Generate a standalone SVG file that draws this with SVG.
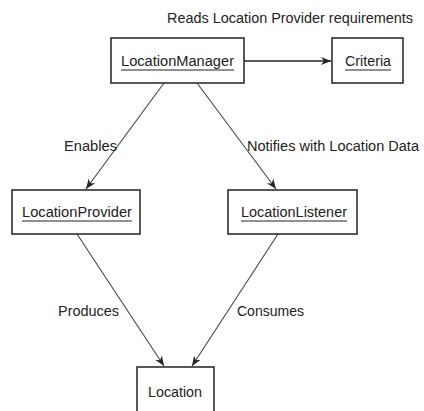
<svg xmlns="http://www.w3.org/2000/svg" width="424" height="411" viewBox="0 0 424 411">
<style>
.box{fill:#fff;stroke:#222;stroke-width:1.5}
.t{font-family:"Liberation Sans",Arial,sans-serif;font-size:14px;fill:#222}
.ul{stroke:#222;stroke-width:1}
.c{stroke:#444;stroke-width:1.1;fill:none;marker-end:url(#ah)}
</style>
<defs>
<marker id="ah" viewBox="0 0 10 10" refX="10" refY="5" markerWidth="10" markerHeight="10" markerUnits="userSpaceOnUse" orient="auto">
<path d="M0,1 L10,5 L0,9 L3,5 Z" fill="#222"/>
</marker>
</defs>
<rect width="424" height="411" fill="#fff"/>
<g id="connectors">
<line class="c" x1="244" y1="61" x2="331" y2="61" style="stroke-width:1.6;stroke:#222"/>
<line class="c" x1="164" y1="83" x2="86" y2="189"/>
<line class="c" x1="197" y1="83" x2="276" y2="189"/>
<line class="c" x1="77" y1="234" x2="164" y2="366"/>
<line class="c" x1="278" y1="234" x2="192" y2="366"/>
<text class="t" x="167" y="23" textLength="246" lengthAdjust="spacingAndGlyphs">Reads Location Provider requirements</text>
<text class="t" x="64" y="151" textLength="53" lengthAdjust="spacingAndGlyphs">Enables</text>
<text class="t" x="247" y="151" textLength="172" lengthAdjust="spacingAndGlyphs">Notifies with Location Data</text>
<text class="t" x="58" y="316" textLength="61" lengthAdjust="spacingAndGlyphs">Produces</text>
<text class="t" x="237" y="316" textLength="67" lengthAdjust="spacingAndGlyphs">Consumes</text>
</g>
<g id="LocationManager">
<rect class="box" x="111" y="38" width="133" height="45"/>
<text class="t" x="121" y="66" textLength="113" lengthAdjust="spacingAndGlyphs">LocationManager</text>
<line class="ul" x1="121" y1="70" x2="234" y2="70"/>
</g>
<g id="Criteria">
<rect class="box" x="332" y="38" width="71" height="45"/>
<text class="t" x="345" y="66" textLength="46" lengthAdjust="spacingAndGlyphs">Criteria</text>
<line class="ul" x1="345" y1="70" x2="391" y2="70"/>
</g>
<g id="LocationProvider">
<rect class="box" x="12" y="190" width="128" height="44"/>
<text class="t" x="22" y="217" textLength="110" lengthAdjust="spacingAndGlyphs">LocationProvider</text>
<line class="ul" x1="22" y1="221" x2="132" y2="221"/>
</g>
<g id="LocationListener">
<rect class="box" x="228" y="190" width="129" height="44"/>
<text class="t" x="241" y="217" textLength="106" lengthAdjust="spacingAndGlyphs">LocationListener</text>
<line class="ul" x1="241" y1="221" x2="347" y2="221"/>
</g>
<g id="Location">
<rect class="box" x="137" y="367" width="77" height="55"/>
<text class="t" x="148" y="397" textLength="54" lengthAdjust="spacingAndGlyphs">Location</text>
</g>
</svg>
